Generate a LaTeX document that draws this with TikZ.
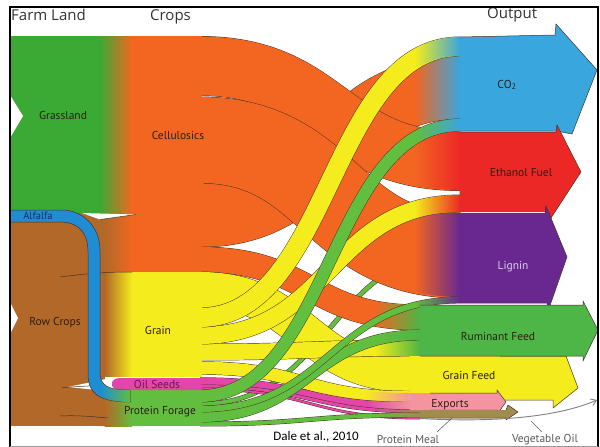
\documentclass[tikz,border=0pt]{standalone}
\usepackage{fontspec}
\setmainfont{PT Sans}
\newfontfamily\hfont{Open Sans}
\newfontfamily\cfont{Carlito}
\usetikzlibrary{fadings,arrows.meta}
\tikzfading[name=fadein, left color=transparent!100, right color=transparent!0]
\definecolor{grass}{RGB}{58,170,53}
\definecolor{cell}{RGB}{242,102,34}
\definecolor{grainc}{RGB}{244,236,28}
\definecolor{rowc}{RGB}{178,104,40}
\definecolor{alf}{RGB}{32,140,212}
\definecolor{forage}{RGB}{98,190,62}
\definecolor{oil}{RGB}{226,70,168}
\definecolor{co2c}{RGB}{58,166,222}
\definecolor{ethc}{RGB}{236,40,38}
\definecolor{ligc}{RGB}{104,40,144}
\definecolor{rumc}{RGB}{78,182,70}
\definecolor{expc}{RGB}{244,148,160}
\definecolor{mealc}{RGB}{160,140,78}
\definecolor{edgec}{RGB}{70,50,40}
\definecolor{labc}{RGB}{45,30,20}
\definecolor{alftext}{RGB}{25,45,110}
\definecolor{oiltext}{RGB}{110,20,80}
\definecolor{ligtext}{RGB}{222,204,240}
\tikzset{
  outl/.style={draw=edgec, line width=0.5pt},
  lab/.style={font=\fontsize{11.5}{13}\selectfont, text=labc, inner sep=0pt},
  headtxt/.style={font=\hfont\fontsize{15}{17}\selectfont, text=black!80, inner sep=0pt, anchor=base west},
  leader/.style={draw=black!60, line width=0.6pt}
}
% #1 colour, #2 output colour, #3 x1, #4 y1 top, #5 y1 bottom, #6 x2, #7 y2 top, #8 y2 bottom
\newcommand\fb[8]{%
  \pgfmathsetmacro\fbw{((#5)-(#4)+(#8)-(#7))/2}%
  \pgfmathsetmacro\fbwo{\fbw+0.9}%
  \pgfmathsetmacro\fbca{((#4)+(#5))/2}%
  \pgfmathsetmacro\fbcb{((#7)+(#8))/2}%
  \pgfmathsetmacro\fbxm{((#3)+(#6))/2}%
  \pgfmathsetmacro\fbxf{(#6)-45}%
  \draw[line width=\fbwo pt, edgec] (#3,\fbca) .. controls (\fbxm,\fbca) and (\fbxm,\fbcb) .. (#6,\fbcb);%
  \draw[line width=\fbw pt, #1] (#3,\fbca) .. controls (\fbxm,\fbca) and (\fbxm,\fbcb) .. (#6,\fbcb);%
  \begin{scope}
    \clip (#3,#4) .. controls (\fbxm,#4) and (\fbxm,#7) .. (#6,#7) -- (#6,#8) .. controls (\fbxm,#8) and (\fbxm,#5) .. (#3,#5) -- cycle;
    \fill[#2, path fading=fadein] (\fbxf,{#7-30}) rectangle (#6,{#8+30});
  \end{scope}%
}
\begin{document}
\begin{tikzpicture}[x=1pt,y=-1pt]
\useasboundingbox (0,0) rectangle (600,447);
% orange flows
\fb{cell}{co2c}{200}{184}{247}{460}{56}{119}
\fb{cell}{ethc}{200}{36}{96}{460}{132}{190}
\fb{forage}{ligc}{200}{402}{406}{460}{250}{254}
\fb{cell}{ligc}{200}{96}{184}{460}{213}{297}
\fb{cell}{rumc}{200}{247}{272}{420}{305}{330}
% yellow flows
\fb{grainc}{grainc}{200}{272}{308}{410}{356}{392}
\fb{grainc}{expc}{200}{360}{376}{410}{393}{402}
\fb{grainc}{rumc}{200}{344}{360}{420}{340}{356}
\fb{grainc}{ethc}{200}{327}{344}{460}{195}{212}
\fb{grainc}{co2c}{200}{308}{327}{460}{37}{56}
% magenta flows
\fb{oil}{expc}{200}{378}{385}{410}{402}{410}
\fb{oil}{mealc}{200}{385}{388}{420}{410}{413}
\fb{oil}{oil}{200}{388}{390}{420}{417}{419}
% green flows
\fb{forage}{mealc}{200}{422}{426}{420}{413}{417}
\fb{forage}{rumc}{200}{412}{422}{420}{330}{340}
\fb{forage}{ligc}{200}{406}{412}{460}{297}{303}
\fb{forage}{co2c}{200}{390}{402}{460}{119}{131}
% crops column
\fill[cell] (100,36) rectangle (201.5,272);
\fill[grainc] (100,272) rectangle (201.5,376.5);
\fill[forage] (100,390) rectangle (201.5,426);
\fill[oil] (201.5,378) -- (120,378) .. controls (109,378) and (109,390) .. (120,390) -- (201.5,390) -- cycle;
% farm land
\fill[grass] (10,36) rectangle (100,213);
\shade[left color=grass,right color=cell] (99.5,36) rectangle (132,213);
\fill[rowc] (10,213) rectangle (105,426);
\shade[left color=rowc,right color=cell] (104.5,213) rectangle (132,272);
\shade[left color=rowc,right color=grainc] (104.5,272) rectangle (132,376.5);
\shade[left color=rowc,right color=forage] (104.5,390) rectangle (132,426);
\fill[white] (104.5,376.5) rectangle (112,390);
\fill[white] (10,95) -- (23,116) -- (10,138) -- cycle;
\fill[white] (10,302) -- (18,318) -- (10,334) -- cycle;
\fill[white] (82,213) -- (136,214.5) -- (100,219.5) -- cycle;
\draw[outl] (100,219.5) -- (136,214.5);
\fill[white] (68,387) -- (106,379) -- (106,391) -- cycle;
\draw[outl] (60,277) .. controls (85,274) and (100,272) .. (132,272);
\draw[outl] (62,387.5) -- (106,385);
\draw[outl] (60,416) .. controls (80,415) and (95,417) .. (108,418);
% alfalfa
\path[outl, fill=alf] (10,210) -- (62,210) .. controls (82,210) and (100,226) .. (100,250) -- (100,372) .. controls (100,386) and (108,390) .. (130,390) -- (130,402) .. controls (100,402) and (88,394) .. (88,374) -- (88,252) .. controls (88,232) and (78,222) .. (60,222) -- (10,222) -- cycle;
\begin{scope}
  \clip (100,372) .. controls (100,386) and (108,390) .. (130,390) -- (130,402) .. controls (100,402) and (88,394) .. (88,374) -- cycle;
  \fill[forage, path fading=fadein] (100,360) rectangle (130.5,405);
\end{scope}
% outputs
\fill[co2c] (459.5,37) -- (555,35) -- (556,24) -- (597,70) -- (572,134) -- (556,131) -- (459.5,131) -- cycle;
\draw[outl] (460,37) -- (555,35) -- (556,24) -- (597,70) -- (572,134) -- (556,131) -- (460,131);
\fill[ethc] (459.5,132) -- (556,132) -- (557,125) -- (581,172) -- (549,221) -- (549,212) -- (459.5,212) -- cycle;
\draw[outl] (460,132) -- (556,132) -- (557,125) -- (581,172) -- (549,221) -- (549,212);
\fill[ligc] (459.5,213) -- (545,213) -- (546,206) -- (567,257) -- (547,314) -- (547,303) -- (459.5,303) -- cycle;
\draw[outl] (545,213) -- (546,206) -- (567,257) -- (547,314) -- (547,303) -- (460,303);
\fill[grainc] (409.5,356) -- (566,356) -- (578,388) -- (553,408) -- (553,400) -- (409.5,400) -- cycle;
\draw[outl] (500,356) -- (566,356) -- (578,388) -- (553,408) -- (553,400) -- (498,400);
\fill[rumc] (419.5,305) -- (583,305) -- (583,301) -- (598,330) -- (583,361) -- (583,356) -- (419.5,356) -- cycle;
\draw[outl] (420,305) -- (583,305) -- (583,301) -- (598,330) -- (583,361) -- (583,356) -- (420,356);
\fill[expc] (409.5,393) -- (497,393) -- (497,390) -- (506,402) -- (498,413) -- (498,410) -- (409.5,410) -- cycle;
\draw[outl] (430,393) -- (497,393) -- (497,390) -- (506,402) -- (498,413) -- (498,410) -- (430,410);
\fill[mealc] (419.5,410) -- (506,410) -- (508,405) -- (518,412) -- (506,420) -- (506,418) -- (419.5,418) -- cycle;
\draw[outl] (506,410) -- (508,405) -- (518,412) -- (506,420) -- (506,418) -- (420,418);
\coordinate (vo1) at (420,418.5);
\coordinate (vo2) at (597,400);
\draw[black!50, line width=0.9pt, -{Straight Barb[length=5pt,width=7pt]}] (vo1) .. controls (500,423) and (560,416) .. (vo2);
% labels
\node[lab] (tGrass) at (63,115) {Grassland};
\node[lab] (tCell) at (178,135) {Cellulosics};
\node[lab, font=\fontsize{10.5}{12}\selectfont, text=alftext] (tAlf) at (38,216) {Alfalfa};
\node[lab] (tRow) at (55,323) {Row Crops};
\node[lab] (tGrain) at (158,330) {Grain};
\node[lab, text=oiltext] (tOil) at (157,384) {Oil Seeds};
\node[lab] (tProt) at (160,412) {Protein Forage};
\node[lab] (tCO2) at (507,85) {CO\textsubscript{2}};
\node[lab] (tEth) at (521,173) {Ethanol Fuel};
\node[lab, text=ligtext] (tLig) at (513,267) {Lignin};
\node[lab] (tRum) at (498,336) {Ruminant Feed};
\node[lab] (tGF) at (469,375) {Grain Feed};
\node[lab] (tExp) at (450,405) {Exports};
\node[lab, text=black!65] (tPM) at (408,439.5) {Protein Meal};
\node[lab, text=black!65] (tVO) at (545,439.5) {Vegetable Oil};
\node[font=\cfont\fontsize{13}{15}\selectfont, inner sep=0pt] (tDale) at (316,437) {Dale et al., 2010};
\coordinate (pmA) at (437,432);
\coordinate (pmB) at (452,418);
\draw[leader] (pmA) -- (pmB);
\coordinate (voA) at (542,432);
\coordinate (voB) at (531,421);
\draw[leader] (voA) -- (voB);
% headings
\node[headtxt] (hFarm) at (11,20) {Farm Land};
\node[headtxt] (hCrops) at (150,20) {Crops};
\node[headtxt] (hOut) at (487,19) {Output};
% frame
\draw[line width=1.5pt] (10,447) -- (10,7) -- (598,7) -- (598,447);
\draw[black!40, line width=0.8pt] (10,446.5) -- (598,446.5);
\end{tikzpicture}
\end{document}
